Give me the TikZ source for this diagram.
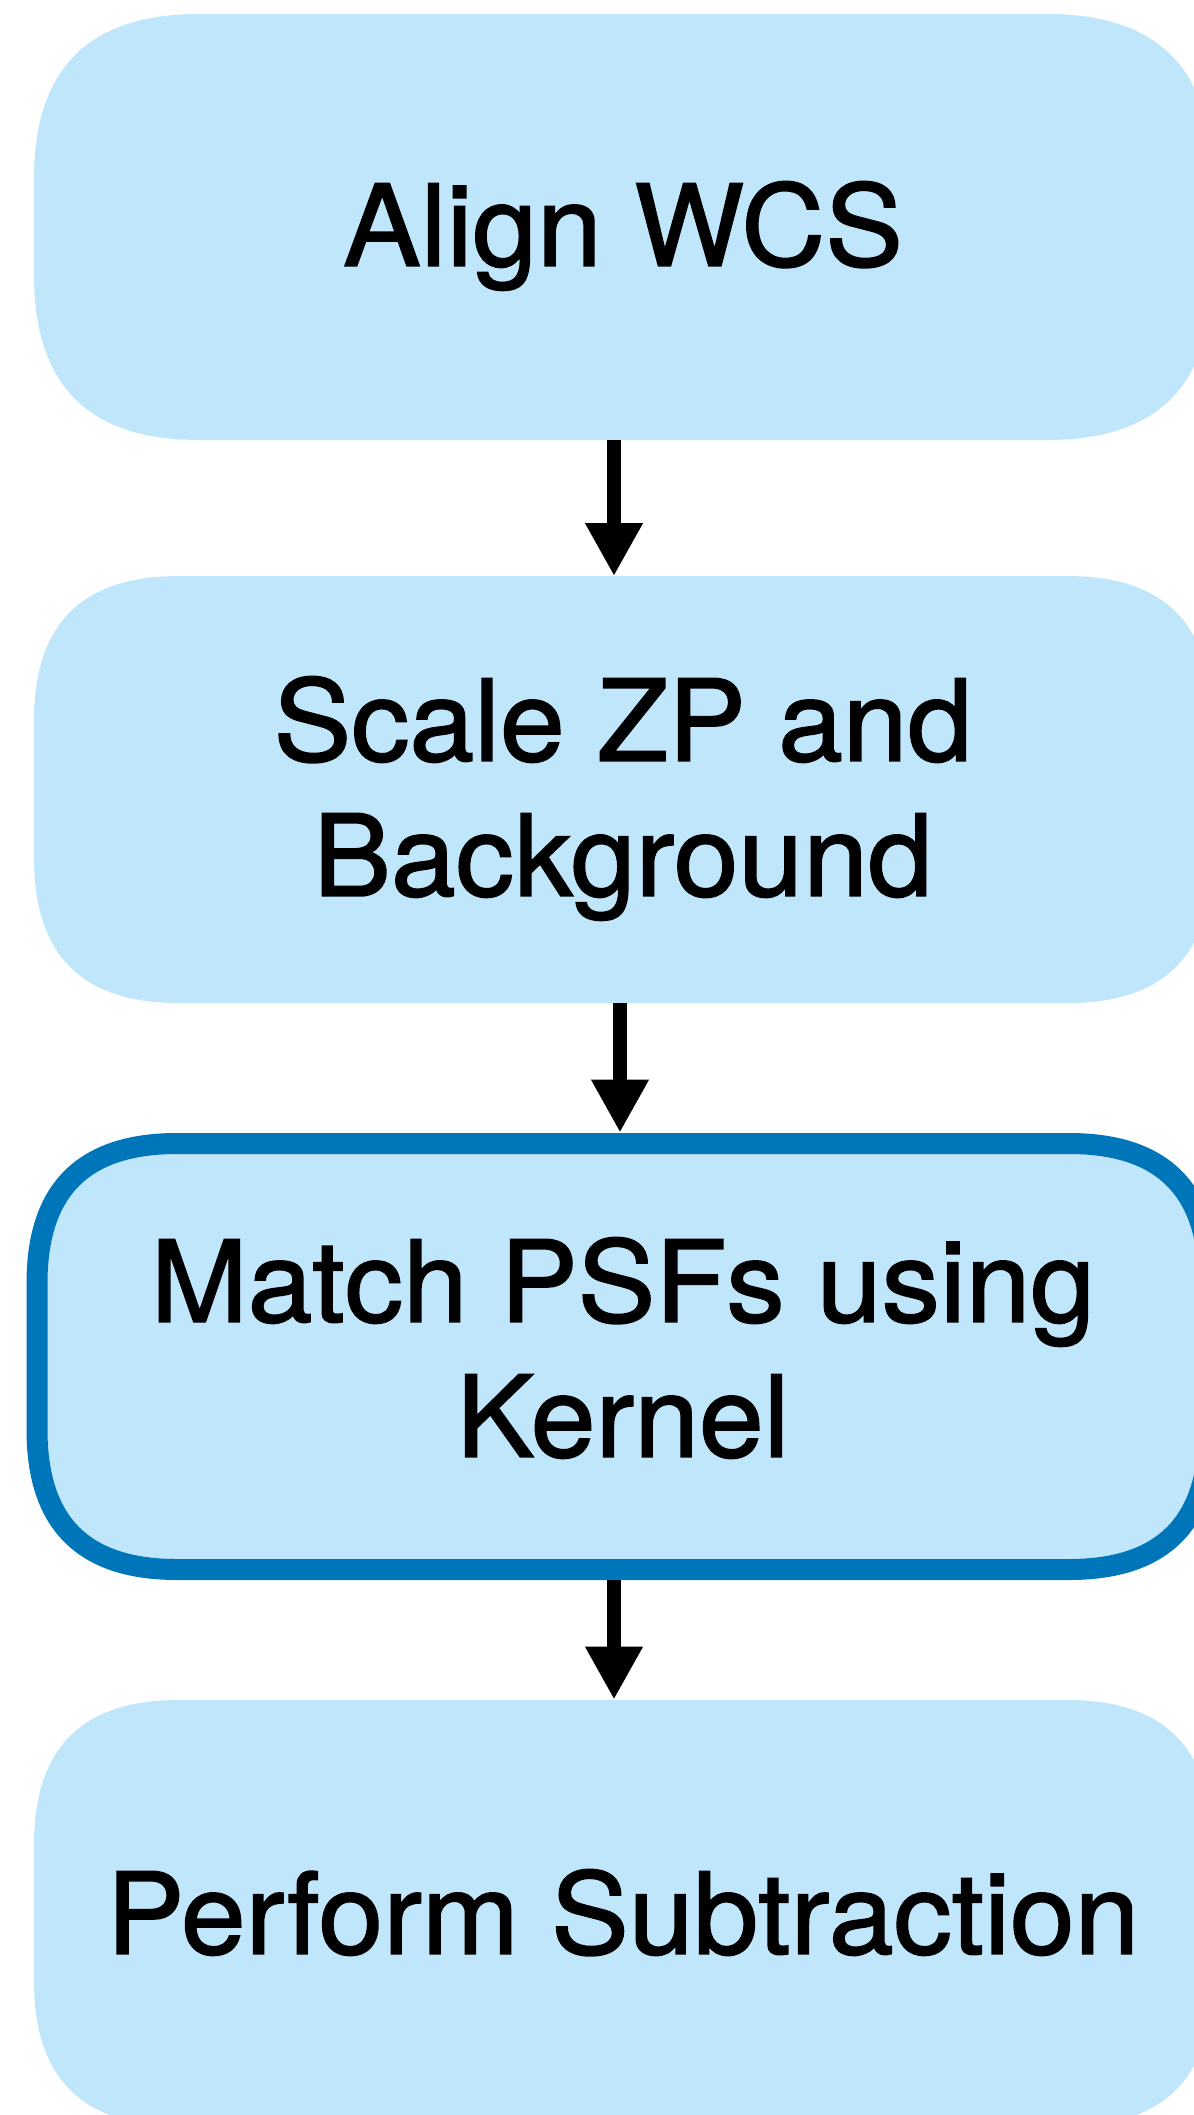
\documentclass[tikz,border=0pt]{standalone}
\usepackage{fontspec}
\setmainfont{TeX Gyre Heros}[FakeStretch=1.03,FakeBold=1.5]
\usetikzlibrary{arrows.meta}
\definecolor{boxfill}{RGB}{191,230,251}
\definecolor{boxline}{RGB}{0,118,186}
% #1 style, #2 x0, #3 y0, #4 x1, #5 y1, #6 corner size
\newcommand\sqbox[6]{%
  \path[#1] (#2+#6,#3) -- (#4-#6,#3)
    .. controls (#4-0.33*#6,#3) and (#4,#3+0.33*#6) .. (#4,#3+#6)
    -- (#4,#5-#6)
    .. controls (#4,#5-0.33*#6) and (#4-0.33*#6,#5) .. (#4-#6,#5)
    -- (#2+#6,#5)
    .. controls (#2+0.33*#6,#5) and (#2,#5-0.33*#6) .. (#2,#5-#6)
    -- (#2,#3+#6)
    .. controls (#2,#3+0.33*#6) and (#2+0.33*#6,#3) .. (#2+#6,#3) -- cycle;}
\tikzset{
  boxnode/.style={rectangle, inner sep=0pt, minimum width=589pt, minimum height=213pt},
  label text/.style={anchor=north, inner sep=0pt, align=center,
    font=\fontsize{56.5pt}{67.5pt}\selectfont},
  plainfill/.style={fill=boxfill},
  hilite/.style={fill=boxfill, draw=boxline, line width=10.5pt},
  arr/.style={line width=7pt, -{Triangle[width=27pt,length=26.5pt]}}
}
\begin{document}
\begin{tikzpicture}[x=0.5pt,y=-0.5pt]
\clip (0,0) rectangle (1194,2115);
\fill[white] (0,0) rectangle (1194,2115);
% box geometry (invisible nodes)
\node[boxnode] (b1) at (623,227) {};
\node[boxnode] (b2) at (623,789.5) {};
\node[boxnode, minimum width=597pt, minimum height=223.5pt] (b3) at (623,1356.5) {};
\node[boxnode] (b4) at (623,1913) {};
% shapes
\sqbox{plainfill}{34}{14}{1212}{440}{165}
\sqbox{plainfill}{34}{576}{1212}{1003}{145}
\sqbox{hilite}{37}{1143.5}{1209}{1569.5}{140}
\sqbox{plainfill}{34}{1700}{1212}{2126}{145}
% texts
\node[label text] (t1) at (623,181) {Align WCS};
\node[label text] (t2) at (623,676) {Scale ZP and\\Background};
\node[label text] (t3) at (623,1237) {Match PSFs using\\Kernel};
\node[label text] (t4) at (623,1869) {Perform Subtraction};
% arrows
\coordinate (ax1) at (614,0);
\coordinate (ax2) at (620,0);
\coordinate (ax3) at (614,0);
\draw[arr] (b1.south -| ax1) -- (b2.north -| ax1);
\draw[arr] (b2.south -| ax2) -- (b3.north -| ax2);
\draw[arr] (b3.south -| ax3) -- (b4.north -| ax3);
\end{tikzpicture}
\end{document}
